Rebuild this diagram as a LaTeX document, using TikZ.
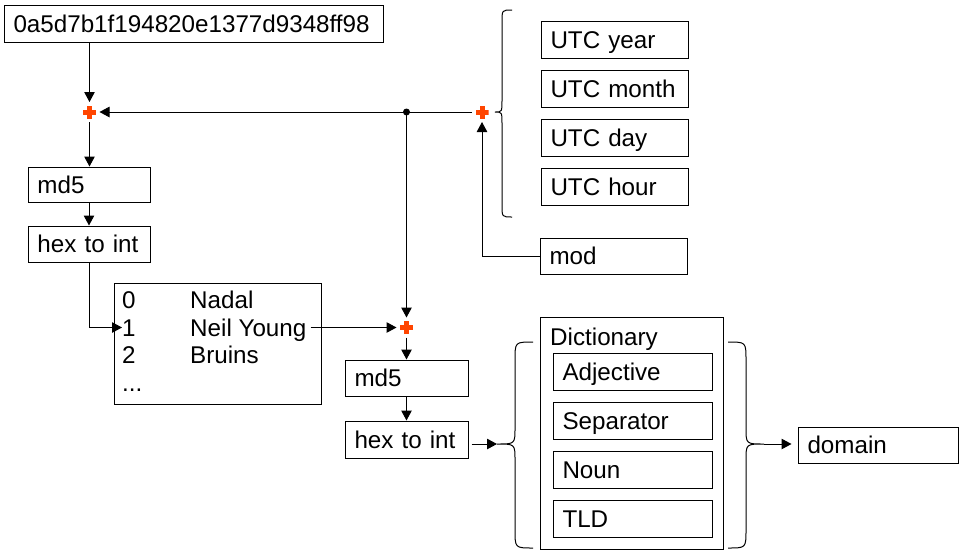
\documentclass[tikz,border=0pt]{standalone}
\usepackage{fontspec}
\setmainfont{Liberation Sans}
\usetikzlibrary{arrows.meta}
\definecolor{plusred}{RGB}{255,69,0}
\begin{document}
\begin{tikzpicture}[x=1pt,y=-1pt,
  every node/.style={font=\fontsize{24.2}{28}\selectfont},
  box/.style 2 args={draw, line width=1pt, text width=#1, minimum height=#2,
    inner xsep=9.5pt, inner ysep=0pt, align=left, text height=17pt, text depth=0pt},
  listtxt/.style={anchor=base west, inner sep=0pt, text height=17pt, text depth=0pt},
  plus/.style={inner sep=0pt, minimum size=13pt, outer sep=3.5pt,
    path picture={
      \fill[plusred] ([shift={(-6.5pt,-2.5pt)}]path picture bounding box.center) rectangle ([shift={(6.5pt,2.5pt)}]path picture bounding box.center);
      \fill[plusred] ([shift={(-2.5pt,-6.5pt)}]path picture bounding box.center) rectangle ([shift={(2.5pt,6.5pt)}]path picture bounding box.center);
    }},
  arr/.style={line width=1pt, -{Triangle[length=10pt,width=10.5pt]}},
  brace/.style={line width=1pt}
]
\useasboundingbox[fill=white] (0,0) rectangle (967,558);

% boxes
\node[box={360pt}{37pt}] (hash) at (193.5,23.5) {0a5d7b1f194820e1377d9348ff98};
\node[box={103pt}{35pt}] (md5a) at (89,184.5) {md5};
\node[box={103pt}{36pt}] (hexa) at (89,244) {hex to int};
\node[draw, line width=1pt, minimum width=207pt, minimum height=121pt, inner sep=0pt] (list) at (217.5,343.5) {};
\node[listtxt] (n0num) at (122,308) {0};
\node[listtxt] (n0name) at (190,308) {Nadal};
\node[listtxt] (n1num) at (122,336) {1};
\node[listtxt] (n1name) at (190,336) {Neil Young};
\node[listtxt] (n2num) at (122,363) {2};
\node[listtxt] (n2name) at (190,363) {Bruins};
\node[listtxt] (n3num) at (122,391) {...};
\node[box={104pt}{36pt}] (md5b) at (406.5,378) {md5};
\node[box={104pt}{37pt}] (hexb) at (406.5,439.5) {hex to int};

\node[box={128pt}{37pt}] (year) at (614.5,39.5) {UTC year};
\node[box={128pt}{37pt}] (month) at (614.5,88.5) {UTC month};
\node[box={128pt}{37pt}] (day) at (614.5,137.5) {UTC day};
\node[box={128pt}{37pt}] (hour) at (614.5,186.5) {UTC hour};
\node[box={128pt}{36pt}] (mod) at (613.5,256) {mod};

\node[draw, line width=1pt, minimum width=183pt, minimum height=232pt, inner sep=0pt] (dict) at (631.5,433) {};
\node[anchor=base west, inner sep=0pt] (dictlabel) at (550,345) {Dictionary};
\node[box={140pt}{37pt}] (adj) at (632.5,371.5) {Adjective};
\node[box={140pt}{37pt}] (sep) at (632.5,420.5) {Separator};
\node[box={140pt}{37pt}] (noun) at (632.5,469.5) {Noun};
\node[box={140pt}{37pt}] (tld) at (632.5,518.5) {TLD};
\node[box={141pt}{36pt}] (domain) at (878,445) {domain};

% plus markers and junction
\node[plus] (p1) at (89.5,112) {};
\node[plus] (p2) at (406.5,327.5) {};
\node[plus] (p3) at (482,112) {};
\coordinate (dot) at (406.5,112);
\fill (dot) circle (3.5pt);

% braces
\coordinate (tbtip) at (495,112);
\coordinate (lbtip) at (497,444);
\coordinate (rbtip) at (764,444);
\draw[brace] (512,10) .. controls (502,10) .. (502,22) -- (502,100)
  .. controls (502,112) .. (tbtip) .. controls (502,112) .. (502,124)
  -- (502,205) .. controls (502,217) .. (512,217);
\draw[brace] (533,342) .. controls (515,342) .. (515,360) -- (515,428)
  .. controls (515,444) .. (lbtip) .. controls (515,444) .. (515,460)
  -- (515,530) .. controls (515,548) .. (533,548);
\draw[brace] (728,342) .. controls (746,342) .. (746,360) -- (746,428)
  .. controls (746,444) .. (rbtip) .. controls (746,444) .. (746,460)
  -- (746,530) .. controls (746,548) .. (728,548);

% connectors
\draw[arr] (p1 |- hash.south) -- (p1);
\draw[arr] (p1) -- (p1 |- md5a.north);
\draw[arr] (md5a) -- (hexa);
\draw[arr] (hexa.south) |- (n1num.west);
\draw[arr, shorten <=4pt] (n1name.east |- p2) -- (p2);
\draw[arr] (p3) -- (p1);
\draw[arr] (dot) -- (p2);
\draw[arr] (mod.west) -| (p3);
\draw[arr] (p2) -- (md5b);
\draw[arr] (md5b) -- (hexb);
\draw[arr, shorten <=3pt] (hexb.east |- lbtip) -- (lbtip);
\draw[arr, shorten >=6pt] (rbtip) -- (domain.west |- rbtip);
\end{tikzpicture}
\end{document}
